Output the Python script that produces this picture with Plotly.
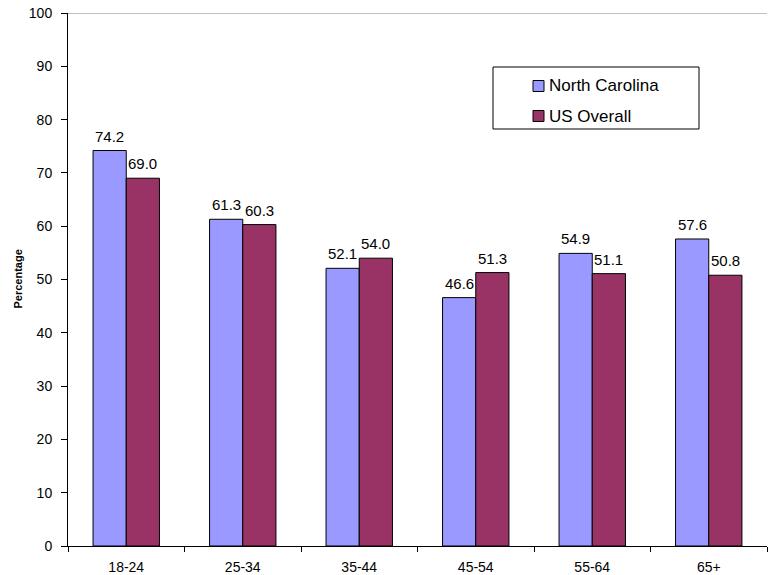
import plotly.graph_objects as go

age_groups = ["18-24", "25-34", "35-44", "45-54", "55-64", "65+"]
north_carolina = [74.2, 61.3, 52.1, 46.6, 54.9, 57.6]
us_overall = [69.0, 60.3, 54.0, 51.3, 51.1, 50.8]
series_names = ["North Carolina", "US Overall"]
series_colors = ["#9999FF", "#993366"]

FONT = "Liberation Sans, Arial, sans-serif"
W, H = 770, 575
L, R, T, B = 68, 3, 13, 29
PW, PH = W - L - R, H - T - B


def px_x(x):
    return (x - L) / PW


def px_y(y):
    return (H - B - y) / PH


fig = go.Figure()
for name, vals, col in zip(series_names, [north_carolina, us_overall], series_colors):
    fig.add_trace(go.Bar(
        name=name, x=age_groups, y=vals,
        marker=dict(color=col, line=dict(color="black", width=1)),
        showlegend=False,
    ))

# value labels above each bar
bar_px = PW / len(age_groups) * 0.57 / 2
for i, vals in enumerate([north_carolina, us_overall]):
    shift = (i - 0.5) * bar_px
    for cat, v in zip(age_groups, vals):
        fig.add_annotation(
            x=cat, y=v, text=f"{v:.1f}", showarrow=False,
            xshift=shift, yshift=4, yanchor="bottom",
            font=dict(size=15, family=FONT, color="black"),
        )

# top boundary of the plot area
fig.add_shape(type="line", xref="paper", yref="y", x0=0, x1=1, y0=100, y1=100,
              line=dict(color="#808080", width=1))

# legend box
fig.add_shape(type="rect", xref="paper", yref="paper",
              x0=px_x(493), x1=px_x(699), y0=px_y(129), y1=px_y(67),
              line=dict(color="black", width=1), fillcolor="white")
for name, col, cy in zip(series_names, series_colors, [86, 116]):
    fig.add_shape(type="rect", xref="paper", yref="paper",
                  x0=px_x(533), x1=px_x(544), y0=px_y(cy + 5.5), y1=px_y(cy - 5.5),
                  line=dict(color="black", width=1), fillcolor=col)
    fig.add_annotation(
        xref="paper", yref="paper", x=px_x(547), y=px_y(cy),
        xanchor="left", yanchor="middle", text=name, showarrow=False,
        font=dict(size=17, family=FONT, color="black"),
    )

# y-axis title
fig.add_annotation(
    xref="paper", yref="paper", x=px_x(17), y=0.5, text="<b>Percentage</b>",
    textangle=-90, showarrow=False, xanchor="center", yanchor="middle",
    font=dict(size=11, family=FONT, color="black"),
)

fig.update_layout(
    width=W, height=H,
    margin=dict(l=L, r=R, t=T, b=B, autoexpand=False),
    paper_bgcolor="white", plot_bgcolor="white",
    font=dict(family=FONT, color="black", size=14),
    barmode="group", bargap=0.43, bargroupgap=0,
    showlegend=False,
    xaxis=dict(
        showline=True, linecolor="black", linewidth=1, automargin=False,
        ticks="outside", tickson="boundaries", ticklen=5, tickcolor="black",
        showgrid=False, tickfont=dict(size=14), ticklabelstandoff=8,
    ),
    yaxis=dict(
        range=[0, 100], dtick=10, showline=True, linecolor="black", linewidth=1,
        ticks="outside", ticklen=6, tickcolor="black", showgrid=False,
        automargin=False,
        tickfont=dict(size=14), ticklabelstandoff=6, zeroline=False,
    ),
)

fig.write_html("out.html")
